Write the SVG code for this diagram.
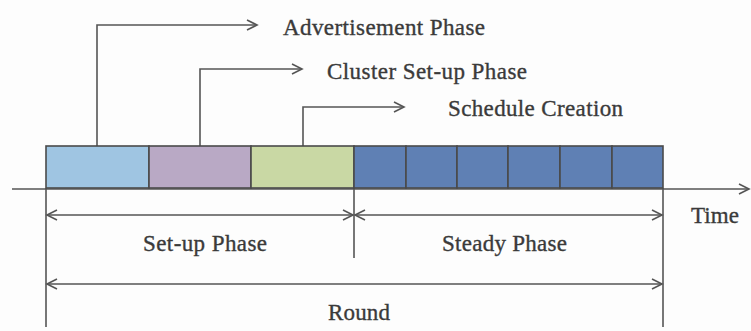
<svg xmlns="http://www.w3.org/2000/svg" width="751" height="331" viewBox="0 0 751 331">
  <style>
    .ln { stroke: #555; stroke-width: 1.6; fill: none; }
    .cell { stroke: #4a4a4a; stroke-width: 1.6; }
    text { font-family: 'Liberation Serif', 'Times New Roman', serif; font-size: 23px; fill: #3a3a3a; stroke: #3a3a3a; stroke-width: 0.35; }
  </style>
  <defs>
    <marker id="arr" markerUnits="userSpaceOnUse" markerWidth="14" markerHeight="14" refX="11" refY="7" orient="auto-start-reverse">
      <path d="M1,2 L11,7 L1,12" fill="none" stroke="#555" stroke-width="1.6"/>
    </marker>
  </defs>
  <rect width="751" height="331" fill="#fdfdfd"/>

  <g id="connectors">
    <!-- time axis -->
    <line class="ln" x1="12" y1="189" x2="749" y2="189" marker-end="url(#arr)"/>
    <!-- callouts to phase labels -->
    <path class="ln" d="M97,146 V25 H257" marker-end="url(#arr)"/>
    <path class="ln" d="M200,146 V69 H302" marker-end="url(#arr)"/>
    <path class="ln" d="M303,146 V107 H404" marker-end="url(#arr)"/>
    <!-- boundaries -->
    <line class="ln" x1="46" y1="188" x2="46" y2="327"/>
    <line class="ln" x1="354" y1="188" x2="354" y2="258"/>
    <line class="ln" x1="663" y1="188" x2="663" y2="327"/>
    <!-- spans -->
    <line class="ln" x1="47" y1="215" x2="353" y2="215" marker-start="url(#arr)" marker-end="url(#arr)"/>
    <line class="ln" x1="355" y1="215" x2="662" y2="215" marker-start="url(#arr)" marker-end="url(#arr)"/>
    <line class="ln" x1="47" y1="284" x2="662" y2="284" marker-start="url(#arr)" marker-end="url(#arr)"/>
  </g>

  <g id="advertisement-slot"><rect class="cell" x="46" y="146" width="103" height="42" fill="#9fc5e2"/></g>
  <g id="cluster-setup-slot"><rect class="cell" x="149" y="146" width="102" height="42" fill="#b9a9c5"/></g>
  <g id="schedule-slot"><rect class="cell" x="251" y="146" width="103" height="42" fill="#c9d8a4"/></g>
  <g id="steady-slots">
    <rect class="cell" x="354" y="146" width="52" height="42" fill="#5f80b4"/>
    <rect class="cell" x="406" y="146" width="51" height="42" fill="#5f80b4"/>
    <rect class="cell" x="457" y="146" width="51" height="42" fill="#5f80b4"/>
    <rect class="cell" x="508" y="146" width="52" height="42" fill="#5f80b4"/>
    <rect class="cell" x="560" y="146" width="52" height="42" fill="#5f80b4"/>
    <rect class="cell" x="612" y="146" width="51" height="42" fill="#5f80b4"/>
  </g>

  <g id="labels">
    <text x="283" y="35" textLength="202" lengthAdjust="spacing">Advertisement Phase</text>
    <text x="327" y="79" textLength="200" lengthAdjust="spacing">Cluster Set-up Phase</text>
    <text x="448" y="116" textLength="175" lengthAdjust="spacing">Schedule Creation</text>
    <text x="691" y="223" textLength="48" lengthAdjust="spacing">Time</text>
    <text x="143" y="251" textLength="124" lengthAdjust="spacing">Set-up Phase</text>
    <text x="442" y="251" textLength="125" lengthAdjust="spacing">Steady Phase</text>
    <text x="328" y="320" textLength="62" lengthAdjust="spacing">Round</text>
  </g>
</svg>
